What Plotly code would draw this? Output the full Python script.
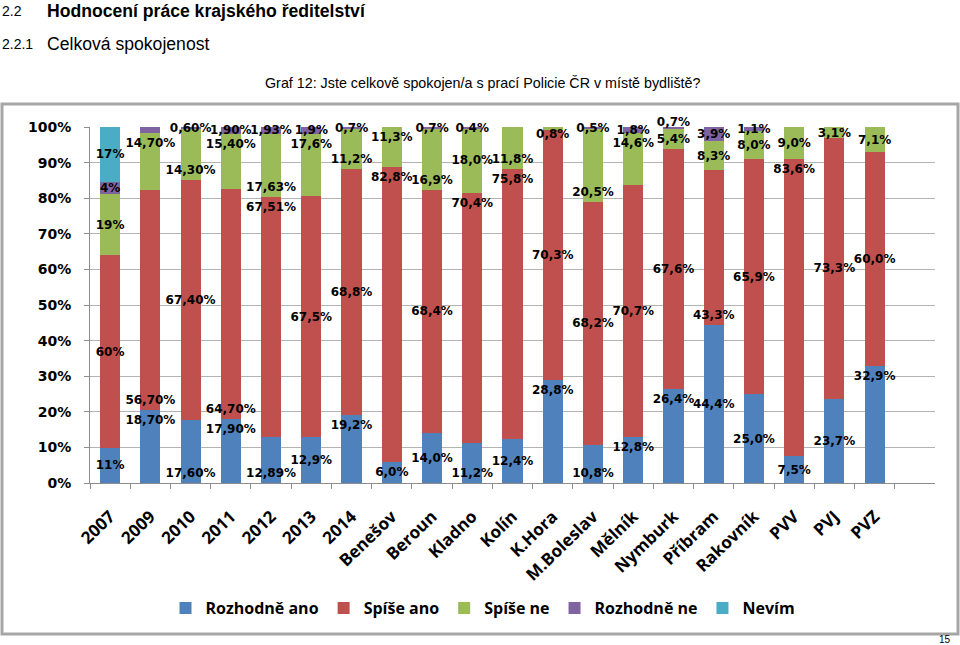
import plotly.graph_objects as go

categories = ["2007", "2009", "2010", "2011", "2012", "2013", "2014", "Benešov", "Beroun",
              "Kladno", "Kolín", "K.Hora", "M.Boleslav", "Mělník", "Nymburk", "Příbram",
              "Rakovník", "PVV", "PVJ", "PVZ"]

rozhodne_ano = [11, 18.7, 17.6, 17.9, 12.89, 12.9, 19.2, 6.0, 14.0, 11.2, 12.4, 28.8, 10.8,
                12.8, 26.4, 44.4, 25.0, 7.5, 23.7, 32.9]
spise_ano = [60, 56.7, 67.4, 64.7, 67.51, 67.5, 68.8, 82.8, 68.4, 70.4, 75.8, 70.3, 68.2,
             70.7, 67.6, 43.3, 65.9, 83.6, 73.3, 60.0]
spise_ne = [19, 14.7, 14.3, 15.4, 17.63, 17.6, 11.2, 11.3, 16.9, 18.0, 11.8, 0.8, 20.5,
            14.6, 5.4, 8.3, 8.0, 9.0, 3.1, 7.1]
rozhodne_ne = [4, 1.6, 0.6, 1.9, 1.93, 1.9, 0.7, None, 0.7, 0.4, None, None, 0.5,
               1.8, 0.7, 3.9, 1.1, None, None, None]
nevim = [17, None, None, None, None, None, None, None, None, None, None, None, None,
         None, None, None, None, None, None, None]

# number of decimals shown in data labels per category
decimals = [0, 2, 2, 2, 2, 1, 1, 1, 1, 1, 1, 1, 1, 1, 1, 1, 1, 1, 1, 1]

# label placement inside each segment (style only), as in the reference
M, S, E = "middle", "start", "end"
anchor_ano = [M, E, S, E, S, M, E, M, M, S, M, E, S, E, E, M, M, M, M, E]
anchor_spise_ano = [M, S, M, S, E, M, M, E, M, E, E, M, M, M, M, S, M, E, M, M]
anchor_spise_ne = [M, E, S, E, S, E, S, E, S, M, S, E, S, E, M, M, M, M, M, M]
anchor_rozhodne_ne = [M, M, M, M, M, M, M, M, M, M, M, M, M, M, S, M, M, M, M, M]
anchor_nevim = [M] * 20

series = [
    ("Rozhodně ano", rozhodne_ano, "#4F81BD", anchor_ano),
    ("Spíše ano", spise_ano, "#C0504D", anchor_spise_ano),
    ("Spíše ne", spise_ne, "#9BBB59", anchor_spise_ne),
    ("Rozhodně ne", rozhodne_ne, "#8064A2", anchor_rozhodne_ne),
    ("Nevím", nevim, "#4BACC6", anchor_nevim),
]


def fmt(v, d):
    if v is None:
        return ""
    return f"{v:.{d}f}".replace(".", ",") + "%"


fig = go.Figure()
for name, vals, color, anchors in series:
    for anc in (M, S, E):
        yv = [v if a == anc else None for v, a in zip(vals, anchors)]
        if anc != M and all(v is None for v in yv):
            continue
        fig.add_trace(go.Bar(
            x=categories, y=yv, name=name, legendgroup=name, showlegend=(anc == M),
            marker=dict(color=color, line=dict(width=0)),
            text=[fmt(v, d) for v, d in zip(yv, decimals)],
            textposition="inside", textangle=0, constraintext="none",
            insidetextanchor=anc,
            textfont=dict(family="DejaVu Sans", size=12, color="black", weight="bold"),
            cliponaxis=False,
        ))

# pixel -> paper helpers (plot area: x 90..935, y 127..483)
L, R, T, B = 90, 935, 127, 483
def px(x):
    return (x - L) / (R - L)
def py(y):
    return (B - y) / (B - T)

fig.update_layout(
    width=960, height=645,
    margin=dict(l=L, r=960 - R, t=T, b=645 - B),
    paper_bgcolor="white", plot_bgcolor="white",
    barmode="stack", barnorm="percent", bargap=0.5,
    showlegend=True,
    legend=dict(orientation="h", x=px(483), xanchor="center", y=py(608), yanchor="middle",
                font=dict(family="Open Sans", size=16, color="black", weight="bold"),
                traceorder="normal", itemsizing="constant"),
    xaxis=dict(type="category", range=[-0.5, 20.5], tickson="boundaries",
               showline=True, linecolor="#8c8c8c", linewidth=1,
               ticks="outside", ticklen=5, tickcolor="#8c8c8c",
               tickangle=-44, showgrid=False, ticklabelstandoff=16,
               tickfont=dict(family="Open Sans", size=17, color="black", weight="bold")),
    yaxis=dict(range=[0, 100], dtick=10, ticksuffix="%",
               showline=True, linecolor="#8c8c8c", linewidth=1,
               ticks="outside", ticklen=5, tickcolor="#8c8c8c",
               showgrid=True, gridcolor="#b3b3b3", gridwidth=1,
               zeroline=False, ticklabelstandoff=10,
               tickfont=dict(family="DejaVu Sans", size=14, color="black", weight="bold")),
)

hdr = "Liberation Sans"
annos = [
    dict(x=px(0), y=py(11), text="2.2", font=dict(family=hdr, size=14, color="black")),
    dict(x=px(45), y=py(11), text="<b>Hodnocení práce krajského ředitelství</b>",
         font=dict(family=hdr, size=17.6, color="black")),
    dict(x=px(0), y=py(44), text="2.2.1", font=dict(family=hdr, size=14, color="black")),
    dict(x=px(45), y=py(44), text="Celková spokojenost",
         font=dict(family=hdr, size=17.6, color="black")),
    dict(x=px(263), y=py(83), text="Graf 12: Jste celkově spokojen/a s prací Policie ČR v místě bydliště?",
         font=dict(family=hdr, size=14.3, color="black")),
    dict(x=px(937), y=py(639), text="15", font=dict(family=hdr, size=10, color="black")),
]
for a in annos:
    fig.add_annotation(xref="paper", yref="paper", xanchor="left", yanchor="middle",
                       showarrow=False, **a)

fig.add_shape(type="rect", xref="paper", yref="paper",
              x0=px(2), x1=px(958), y0=py(634), y1=py(104),
              line=dict(color="#a6a6a6", width=3), fillcolor="rgba(0,0,0,0)", layer="below")

fig.write_html("out.html", config={"displayModeBar": False},
               post_script="document.body.style.margin='0';document.body.style.padding='0';")
